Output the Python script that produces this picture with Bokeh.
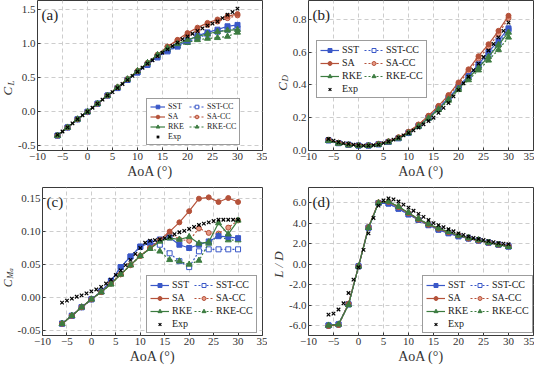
import math
from bokeh.plotting import figure
from bokeh.layouts import column, row
from bokeh.models import (FixedTicker, PrintfTickFormatter, Legend, LegendItem,
                          Label)
from bokeh.embed import file_html
from bokeh.resources import INLINE

# ---------------- data ----------------
aoa = [-6, -4, -2, 0, 2, 4, 6, 8, 10, 12, 14, 16, 18, 20, 22, 24, 26, 28, 30]
aoa_exp = [-6, -5, -4, -3, -2, -1, 0, 1, 2, 3, 4, 5, 6, 7, 8, 9, 10, 11, 12, 13, 14, 15,
           16, 17, 18, 19, 20, 21, 22, 23, 24, 25, 26, 27, 28, 29, 30]

# Lift coefficient
sst_cl = [-0.36, -0.24, -0.12, -0.01, 0.11, 0.23, 0.34, 0.46, 0.57, 0.69, 0.80, 0.89, 0.96, 1.04, 1.11, 1.16, 1.20, 1.25, 1.27]
sstcc_cl = [-0.36, -0.24, -0.12, -0.01, 0.11, 0.23, 0.34, 0.46, 0.57, 0.68, 0.79, 0.88, 0.95, 1.02, 1.08, 1.13, 1.17, 1.20, 1.22]
sa_cl = [-0.36, -0.24, -0.12, -0.01, 0.11, 0.23, 0.35, 0.47, 0.59, 0.71, 0.83, 0.95, 1.05, 1.15, 1.23, 1.30, 1.35, 1.40, 1.43]
sacc_cl = [-0.36, -0.24, -0.12, -0.01, 0.11, 0.23, 0.35, 0.47, 0.59, 0.71, 0.83, 0.95, 1.04, 1.12, 1.19, 1.27, 1.32, 1.37, 1.41]
rke_cl = [-0.36, -0.24, -0.12, -0.01, 0.11, 0.23, 0.35, 0.47, 0.59, 0.71, 0.83, 0.93, 0.99, 1.05, 1.10, 1.14, 1.17, 1.19, 1.20]
rkecc_cl = [-0.36, -0.24, -0.12, -0.01, 0.11, 0.23, 0.35, 0.47, 0.59, 0.71, 0.82, 0.90, 0.96, 1.01, 1.05, 1.07, 1.08, 1.10, 1.16]
exp_cl = [-0.35, -0.30, -0.24, -0.18, -0.12, -0.06, -0.01, 0.05, 0.11, 0.17, 0.23, 0.28, 0.34, 0.40, 0.46, 0.52, 0.58, 0.64, 0.70,
          0.75, 0.81, 0.86, 0.91, 0.96, 1.01, 1.06, 1.10, 1.14, 1.18, 1.22, 1.26, 1.29, 1.32, 1.37, 1.42, 1.46, 1.51]

# Drag coefficient
sst_cd = [0.062, 0.045, 0.035, 0.030, 0.030, 0.038, 0.052, 0.075, 0.108, 0.150, 0.200, 0.258, 0.320, 0.390, 0.455, 0.525, 0.600, 0.670, 0.745]
sstcc_cd = [0.062, 0.045, 0.035, 0.030, 0.030, 0.038, 0.052, 0.075, 0.108, 0.150, 0.200, 0.255, 0.315, 0.382, 0.448, 0.512, 0.580, 0.650, 0.735]
sa_cd = [0.065, 0.047, 0.036, 0.031, 0.031, 0.040, 0.055, 0.080, 0.114, 0.158, 0.212, 0.272, 0.338, 0.415, 0.495, 0.575, 0.648, 0.730, 0.822]
sacc_cd = [0.065, 0.047, 0.036, 0.031, 0.031, 0.040, 0.055, 0.080, 0.114, 0.158, 0.210, 0.270, 0.333, 0.405, 0.483, 0.560, 0.630, 0.712, 0.808]
rke_cd = [0.060, 0.043, 0.033, 0.029, 0.029, 0.037, 0.051, 0.074, 0.106, 0.148, 0.197, 0.252, 0.312, 0.378, 0.442, 0.505, 0.572, 0.645, 0.720]
rkecc_cd = [0.060, 0.043, 0.033, 0.029, 0.029, 0.037, 0.051, 0.074, 0.106, 0.147, 0.195, 0.248, 0.305, 0.370, 0.430, 0.490, 0.550, 0.615, 0.690]
exp_cd = [0.070, 0.060, 0.050, 0.045, 0.040, 0.035, 0.032, 0.030, 0.030, 0.032, 0.036, 0.045, 0.055, 0.066, 0.078, 0.092, 0.107, 0.123,
          0.140, 0.160, 0.180, 0.200, 0.230, 0.260, 0.290, 0.330, 0.370, 0.410, 0.450, 0.490, 0.530, 0.570, 0.610, 0.650, 0.690, 0.730, 0.780]

# Moment coefficient
sst_cm = [-0.040, -0.028, -0.015, -0.003, 0.009, 0.025, 0.046, 0.062, 0.077, 0.083, 0.088, 0.091, 0.080, 0.075, 0.080, 0.085, 0.093, 0.092, 0.090]
sstcc_cm = [-0.040, -0.028, -0.015, -0.003, 0.009, 0.025, 0.046, 0.062, 0.077, 0.083, 0.080, 0.067, 0.055, 0.046, 0.070, 0.073, 0.073, 0.073, 0.073]
sa_cm = [-0.040, -0.028, -0.015, -0.003, 0.008, 0.021, 0.035, 0.049, 0.063, 0.075, 0.087, 0.100, 0.114, 0.131, 0.150, 0.152, 0.145, 0.151, 0.145]
sacc_cm = [-0.040, -0.028, -0.015, -0.003, 0.008, 0.021, 0.035, 0.049, 0.063, 0.075, 0.087, 0.097, 0.088, 0.086, 0.105, 0.098, 0.097, 0.106, 0.117]
rke_cm = [-0.040, -0.028, -0.015, -0.003, 0.008, 0.020, 0.035, 0.049, 0.063, 0.074, 0.085, 0.090, 0.088, 0.092, 0.082, 0.084, 0.113, 0.096, 0.117]
rkecc_cm = [-0.040, -0.028, -0.015, -0.003, 0.008, 0.020, 0.035, 0.049, 0.063, 0.074, 0.070, 0.057, 0.055, 0.050, 0.056, 0.082, 0.094, 0.087, 0.087]
exp_cm = [-0.008, -0.005, -0.002, 0.001, 0.003, 0.006, 0.009, 0.012, 0.016, 0.021, 0.027, 0.034, 0.041, 0.049, 0.057, 0.066, 0.075,
          0.083, 0.086, 0.087, 0.088, 0.090, 0.092, 0.096, 0.099, 0.101, 0.104, 0.107, 0.110, 0.112, 0.114, 0.116, 0.118, 0.118,
          0.118, 0.118, 0.118]

# Lift-to-drag ratio
sst_ld = [-5.95, -5.85, -3.90, -0.20, 3.55, 5.95, 5.90, 5.40, 4.85, 4.30, 3.80, 3.35, 3.00, 2.70, 2.50, 2.30, 2.10, 1.90, 1.75]
sstcc_ld = [-5.95, -5.85, -3.90, -0.20, 3.55, 5.95, 5.90, 5.40, 4.85, 4.30, 3.80, 3.40, 3.05, 2.75, 2.50, 2.30, 2.10, 1.90, 1.70]
sa_ld = [-6.00, -5.90, -3.85, -0.20, 3.60, 6.00, 6.05, 5.55, 4.95, 4.35, 3.85, 3.45, 3.10, 2.80, 2.50, 2.30, 2.10, 1.90, 1.75]
sacc_ld = [-6.00, -5.90, -3.85, -0.20, 3.60, 6.00, 6.05, 5.55, 4.95, 4.35, 3.85, 3.45, 3.10, 2.80, 2.52, 2.32, 2.12, 1.92, 1.75]
rke_ld = [-5.95, -5.85, -3.95, -0.20, 3.55, 5.95, 6.10, 5.60, 5.00, 4.40, 3.90, 3.50, 3.15, 2.80, 2.55, 2.35, 2.10, 1.90, 1.70]
rkecc_ld = [-5.95, -5.85, -3.95, -0.20, 3.55, 5.95, 6.10, 5.60, 5.00, 4.40, 3.90, 3.50, 3.12, 2.80, 2.55, 2.32, 2.10, 1.88, 1.70]
exp_ld = [-4.90, -4.80, -4.40, -3.80, -2.80, -1.50, -0.30, 1.40, 3.00, 4.50, 5.70, 6.20, 6.40, 6.30, 6.10, 5.80, 5.50, 5.20, 4.90,
          4.60, 4.30, 4.00, 3.80, 3.60, 3.40, 3.20, 3.00, 2.85, 2.70, 2.55, 2.45, 2.35, 2.25, 2.15, 2.05, 2.00, 1.95]

x_ticks = [-10, -5, 0, 5, 10, 15, 20, 25, 30, 35]

# ---------------- styling ----------------
FONT = "Liberation Serif"
BLUE = "#3a58c8"
RED = "#b5523a"
GREEN = "#3c7c40"
FRAME = "#3a3a3a"
TXT = "#333333"

H_TOP = 181
H_BOT = 185


def make_fig(w, h, yr, yticks, yfmt, ml, mr, mt, mb):
    p = figure(width=w, height=h, x_range=(-10, 35), y_range=yr,
               output_backend="svg", toolbar_location=None,
               min_border_left=ml, min_border_right=mr, min_border_top=mt,
               min_border_bottom=mb)
    p.outline_line_color = FRAME
    p.outline_line_width = 1
    p.xaxis.ticker = FixedTicker(ticks=x_ticks)
    p.yaxis.ticker = FixedTicker(ticks=yticks)
    p.yaxis.formatter = PrintfTickFormatter(format=yfmt)
    for ax in (p.xaxis[0], p.yaxis[0]):
        ax.axis_line_color = None
        ax.major_tick_in = 3
        ax.major_tick_out = 0
        ax.major_tick_line_color = FRAME
        ax.minor_tick_line_color = None
        ax.major_label_text_font = FONT
        ax.major_label_text_font_size = "11px"
        ax.major_label_text_color = TXT
        ax.major_label_standoff = 2
    p.xaxis.axis_label = "AoA (°)"
    p.xaxis.axis_label_text_font = FONT
    p.xaxis.axis_label_text_font_size = "14px"
    p.xaxis.axis_label_text_font_style = "normal"
    p.xaxis.axis_label_text_color = TXT
    p.xaxis.axis_label_standoff = 1
    p.grid.grid_line_color = "#cdcdcd"
    p.grid.grid_line_dash = "4 3"
    p.grid.grid_line_width = 1
    return p


def add_series(p, ys, font_px, gw, row_h, spacing, loc):
    (sst, sstcc, sa, sacc, rke, rkecc, ex) = ys
    items = {}
    specs = [
        ("SST-CC", sstcc, BLUE, "2 2", "square", "white"),
        ("SA-CC", sacc, RED, "2 2", "circle", "#e79a86"),
        ("RKE-CC", rkecc, GREEN, "2 2", "triangle", GREEN),
        ("SST", sst, BLUE, "solid", "square", BLUE),
        ("SA", sa, RED, "solid", "circle", RED),
        ("RKE", rke, GREEN, "solid", "triangle", GREEN),
    ]
    for name, yv, col, dash, mk, fill in specs:
        ln = p.line(aoa, yv, line_color=col, line_width=1.2, line_dash=dash)
        sz = 6 if mk == "triangle" else 5
        sc = p.scatter(aoa, yv, marker=mk, size=sz, line_color=col, fill_color=fill,
                       line_width=1)
        items[name] = [ln, sc]
    ex_r = p.scatter(aoa_exp, ex, marker="x", size=5, line_color="black", line_width=1.2)
    items["Exp"] = [ex_r]
    order = ["SST", "SA", "RKE", "Exp", "SST-CC", "SA-CC", "RKE-CC"]
    leg = Legend(items=[LegendItem(label=n, renderers=items[n]) for n in order],
                 location=loc, nrows=4, orientation="vertical")
    leg.label_text_font = FONT
    leg.label_text_font_size = f"{font_px}px"
    leg.label_text_color = "#222222"
    leg.label_height = row_h
    leg.glyph_height = row_h
    leg.glyph_width = gw
    leg.label_standoff = 3
    leg.spacing = spacing
    leg.padding = 3
    leg.margin = 0
    leg.border_line_color = FRAME
    leg.border_line_width = 1
    leg.background_fill_alpha = 1.0
    p.add_layout(leg, "center")


def label_fig(w, h, parts):
    # narrow companion figure that only carries the rotated y-axis title
    f = figure(width=w, height=h, x_range=(0, w), y_range=(0, 1), title=None,
               x_axis_type=None, y_axis_type=None,
               output_backend="svg", toolbar_location=None,
               min_border=0, min_border_left=0, min_border_right=0,
               min_border_top=0, min_border_bottom=0)
    f.grid.visible = False
    f.outline_line_color = None
    for txt, x, y, size in parts:
        f.add_layout(Label(x=x, y=y, text=txt,
                           angle=math.pi / 2, text_font=FONT, text_font_size=f"{size}px",
                           text_font_style="italic", text_color=TXT,
                           text_align="center", text_baseline="middle"))
    return f


def panel_label(p, txt, fh):
    p.add_layout(Label(x=4, y=fh - 6, x_units="screen", y_units="screen", text=txt,
                       text_font=FONT, text_font_size="15px", text_color="#222222",
                       text_align="left", text_baseline="top"))


# panel (a)
pa = make_fig(252, H_TOP, (-0.58, 1.63), [-0.5, 0.0, 0.5, 1.0, 1.5], "%.1f", 19, 5, 0, 31)
add_series(pa, (sst_cl, sstcc_cl, sa_cl, sacc_cl, rke_cl, rkecc_cl, exp_cl), 8, 15, 9, 1, (109, 5))
panel_label(pa, "(a)", 150)
la = label_fig(15, H_TOP, [("C", 7.3, 0.395, 13), ("L", 10, 0.45, 9)])

# panel (b)
pb = make_fig(245, H_TOP, (0.0, 0.915), [0.0, 0.2, 0.4, 0.6, 0.8], "%.1f", 17, 1, 0, 31)
add_series(pb, (sst_cd, sstcc_cd, sa_cd, sacc_cd, rke_cd, rkecc_cd, exp_cd), 10, 19, 10, 2, (8, 52))
panel_label(pb, "(b)", 150)
lb = label_fig(22, H_TOP, [("C", 14.5, 0.427, 13), ("D", 17, 0.482, 9)])

# panel (c)
pc = make_fig(253, H_BOT, (-0.058, 0.167), [-0.05, 0.0, 0.05, 0.10, 0.15], "%.2f", 25, 5, 6, 31)
add_series(pc, (sst_cm, sstcc_cm, sa_cm, sacc_cm, rke_cm, rkecc_cm, exp_cm), 10, 19, 10, 2, (104, 2))
panel_label(pc, "(c)", 148)
lc = label_fig(14, H_BOT, [("C", 7, 0.353, 12), ("M", 9, 0.408, 8.5), ("a", 10, 0.443, 7)])

# panel (d)
pd_ = make_fig(248, H_BOT, (-6.93, 7.46), [-6, -4, -2, 0, 2, 4, 6], "%.1f", 20, 1, 6, 31)
add_series(pd_, (sst_ld, sstcc_ld, sa_ld, sacc_ld, rke_ld, rkecc_ld, exp_ld), 10, 19, 10, 2, (114, 2))
panel_label(pd_, "(d)", 148)
ld = label_fig(19, H_BOT, [("L / D", 11, 0.48, 13)])

layout = column(row(la, pa, lb, pb), row(lc, pc, ld, pd_))

with open("out.html", "w") as f:
    f.write(file_html(layout, INLINE))
